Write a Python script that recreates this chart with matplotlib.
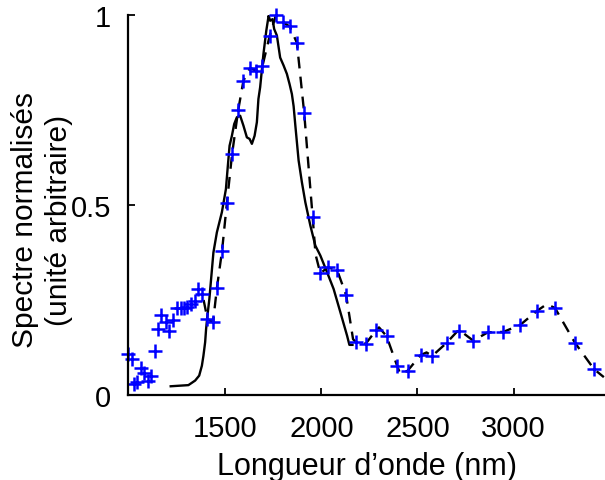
import numpy as np
import matplotlib.pyplot as plt

plt.rcParams['font.family'] = ['Liberation Sans', 'DejaVu Sans']

# measured spectrum (solid line)
solid_x = [1217, 1309, 1344, 1365, 1379, 1387, 1396, 1401, 1408, 1418, 1439,
           1457, 1483, 1504, 1514, 1523, 1535, 1547, 1561, 1578, 1595, 1613,
           1627, 1639, 1653, 1665, 1673, 1682, 1699, 1714, 1726, 1734, 1746,
           1755, 1769, 1786, 1804, 1821, 1835, 1847, 1856, 1865, 1882, 1899,
           1917, 1943, 1969, 1995, 2030, 2064, 2099, 2134, 2146, 2162]
solid_y = [0.023, 0.026, 0.038, 0.051, 0.077, 0.103, 0.139, 0.174, 0.209, 0.253, 0.375,
           0.428, 0.481, 0.542, 0.603, 0.656, 0.682, 0.713, 0.731, 0.735, 0.709, 0.678,
           0.674, 0.661, 0.682, 0.718, 0.779, 0.810, 0.897, 0.959, 0.998, 0.985, 0.989,
           0.963, 0.946, 0.888, 0.867, 0.845, 0.818, 0.792, 0.760, 0.709, 0.617, 0.560,
           0.507, 0.446, 0.393, 0.367, 0.323, 0.279, 0.218, 0.156, 0.132, 0.132]

# model spectrum (dashed line)
dash_x = [1388, 1408, 1437, 1457, 1484, 1509, 1536, 1568, 1595, 1630, 1661,
          1694, 1731, 1764, 1800, 1835, 1873, 1911, 1955, 1970, 1995, 2033,
          2082, 2129, 2165, 2180, 2231, 2284, 2300, 2339, 2394, 2411, 2449,
          2516, 2547, 2577, 2651, 2715, 2730, 2790, 2866, 2946, 3033, 3123,
          3172, 3215, 3318, 3418, 3469]
dash_y = [0.250, 0.200, 0.191, 0.281, 0.380, 0.505, 0.634, 0.750, 0.827, 0.861, 0.853,
          0.866, 0.944, 1.000, 0.981, 0.970, 0.927, 0.742, 0.468, 0.370, 0.320, 0.336,
          0.329, 0.263, 0.147, 0.139, 0.135, 0.170, 0.178, 0.155, 0.077, 0.055, 0.064,
          0.105, 0.112, 0.103, 0.137, 0.172, 0.166, 0.143, 0.165, 0.166, 0.184, 0.222,
          0.239, 0.229, 0.138, 0.068, 0.047]

# measured points (blue crosses)
pts_x = [996, 1017, 1026, 1040, 1062, 1080, 1100, 1115, 1134, 1150, 1168,
         1191, 1208, 1228, 1248, 1271, 1286, 1304, 1323, 1342, 1361, 1382,
         1408, 1437, 1457, 1484, 1509, 1536, 1568, 1595, 1630, 1661, 1694,
         1731, 1764, 1800, 1835, 1873, 1911, 1955, 1995, 2033, 2082, 2129,
         2180, 2231, 2284, 2339, 2394, 2449, 2516, 2577, 2651, 2715, 2790,
         2866, 2946, 3033, 3123, 3215, 3318, 3418]
pts_y = [0.108, 0.095, 0.028, 0.033, 0.072, 0.059, 0.038, 0.049, 0.115, 0.175, 0.211,
         0.191, 0.169, 0.197, 0.228, 0.228, 0.228, 0.231, 0.239, 0.247, 0.279, 0.266,
         0.200, 0.191, 0.281, 0.380, 0.505, 0.634, 0.750, 0.827, 0.861, 0.853, 0.866,
         0.944, 1.000, 0.981, 0.970, 0.927, 0.742, 0.468, 0.320, 0.336, 0.329, 0.263,
         0.139, 0.135, 0.170, 0.155, 0.077, 0.064, 0.105, 0.103, 0.137, 0.169, 0.143,
         0.165, 0.166, 0.184, 0.222, 0.229, 0.138, 0.068]

fig = plt.figure(figsize=(6.05, 4.81), dpi=100)
ax = fig.add_axes([0.2116, 0.1767, 0.79, 0.79])

ax.plot(solid_x, solid_y, color='black', lw=1.7)
ax.plot(dash_x, dash_y, color='black', lw=1.7, dashes=(5, 3.5))
ax.plot(pts_x, pts_y, '+', color='blue', ms=10, mew=1.8, clip_on=False)

ax.set_xlim(995, 3480)
ax.set_ylim(0, 1)
ax.set_xticks([1500, 2000, 2500, 3000])
ax.set_yticks([0, 0.5, 1])
ax.set_yticklabels(['0', '0.5', '1'])
ax.spines['top'].set_visible(False)
ax.spines['right'].set_visible(False)
ax.spines['left'].set_linewidth(1.6)
ax.spines['bottom'].set_linewidth(1.6)
ax.tick_params(direction='in', length=5, width=1.3, labelsize=21)
ax.tick_params(axis='x', pad=14)
ax.tick_params(axis='y', pad=12)

ax.set_xlabel('Longueur d\u2019onde (nm)', fontsize=22, labelpad=6)
ax.set_ylabel('Spectre normalisés\n(unité arbitraire)', fontsize=21.5,
              linespacing=1.25)
ax.yaxis.set_label_coords(-0.116, 0.463)

fig.savefig('out.png', dpi=100)
